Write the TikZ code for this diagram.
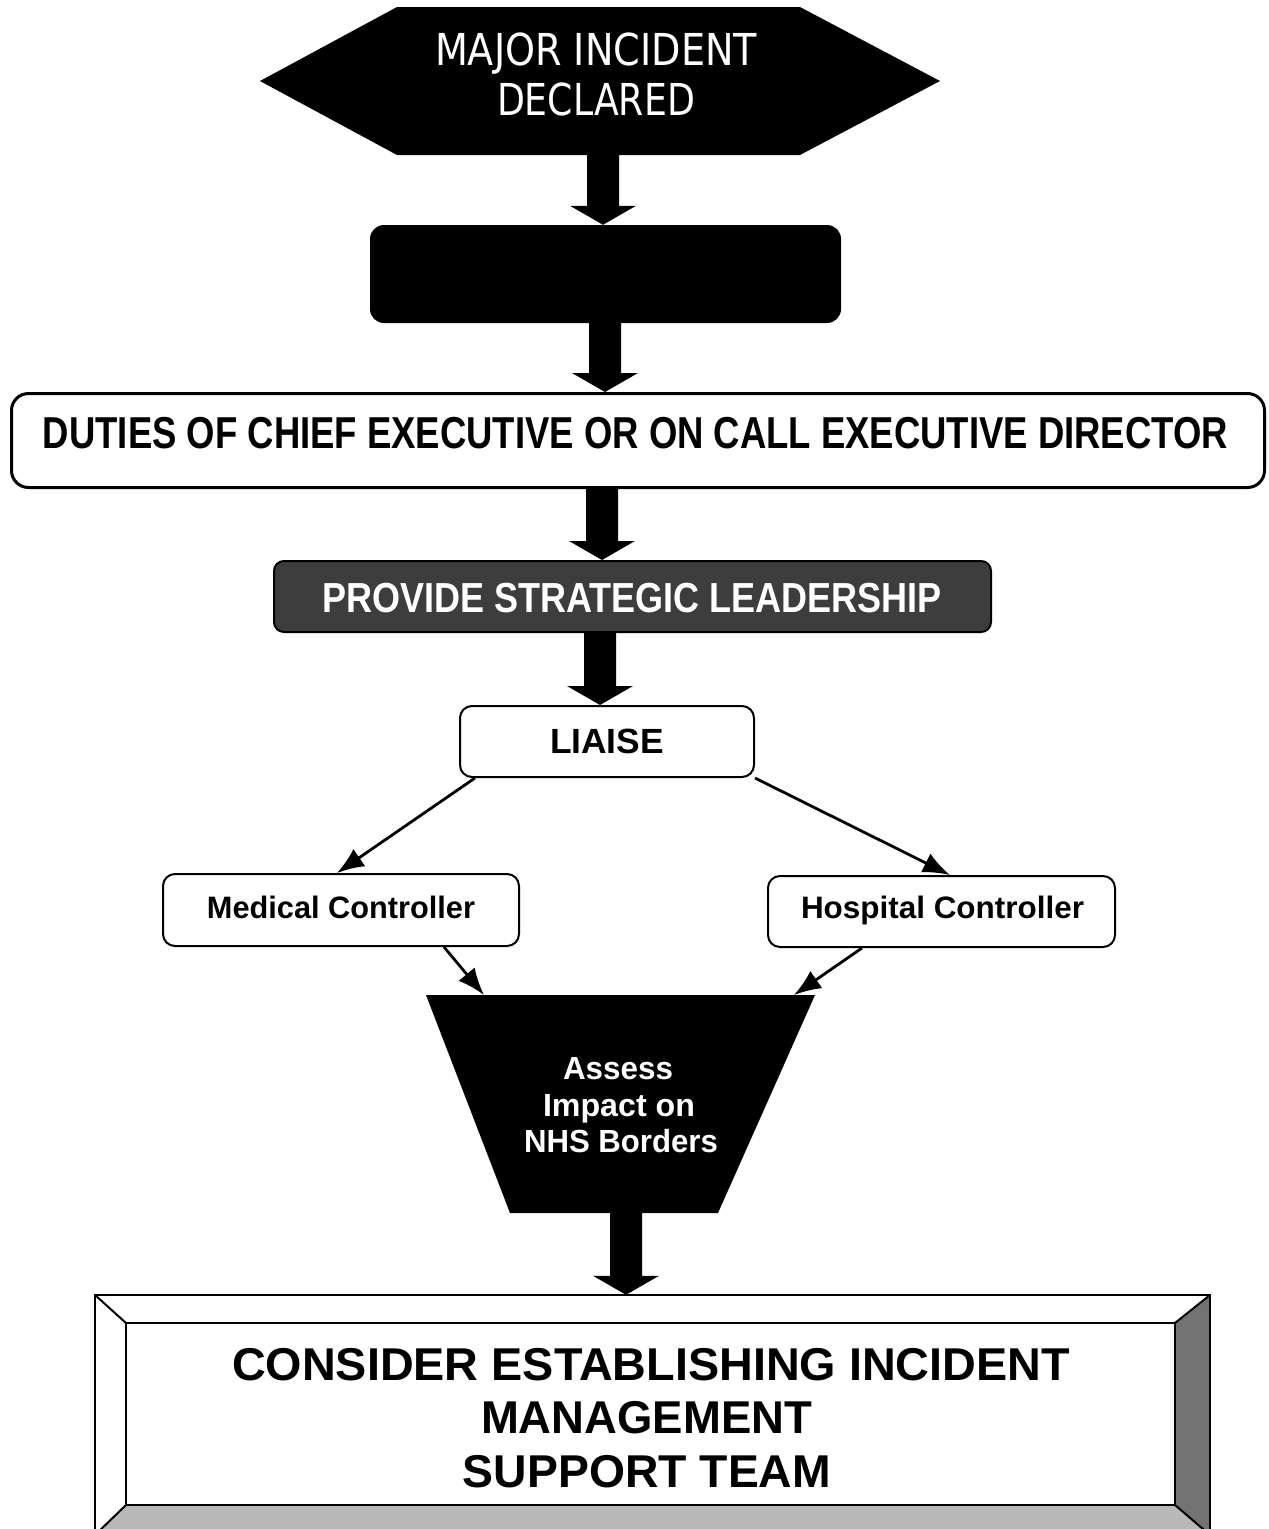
\documentclass[tikz,border=0pt]{standalone}
\usepackage{fontspec}
\setmainfont{Liberation Sans}
\newfontfamily\hexfont{DejaVu Sans}
\usetikzlibrary{arrows.meta,calc}

% text line set at a given size, stretched horizontally to a given width
\newcommand\fitw[3]{\resizebox{#1pt}{\height}{\fontsize{#2}{#2}\selectfont #3}}

% thick block arrow from the point #1 down to the tip #2
\newcommand\blockarrow[2]{%
  \fill let \p1=#1, \p2=#2 in
    (\x1-16pt,\y1) -- (\x1-16pt,\y2+19pt) -- (\x1-33pt,\y2+19pt) -- (\x1,\y2)
    -- (\x1+33pt,\y2+19pt) -- (\x1+16pt,\y2+19pt) -- (\x1+16pt,\y1) -- cycle;}

\begin{document}
\begin{tikzpicture}[x=1pt,y=-1pt,
  thinarrow/.style={line width=2.8pt, -{Latex[length=27pt,width=21pt]}},
  plainbox/.style={draw, line width=2pt, rounded corners=12pt, fill=white, inner sep=0},
  lbl/.style={anchor=base, inner sep=0},
  bevel/.style={line width=2pt, line join=miter},
]
\path[use as bounding box] (0,0) rectangle (1269,1529);
\fill[white] (0,0) rectangle (1269,1529);
\clip (0,0) rectangle (1269,1529);

% columns of the block arrows
\coordinate (ax1) at (603,0);
\coordinate (ax2) at (605,0);
\coordinate (ax3) at (602,0);
\coordinate (ax4) at (600,0);
\coordinate (ax5) at (626,0);

% start: hexagon banner
\fill (260,81) -- (397,7) -- (800,7) -- (940,81) -- (800,155) -- (397,155) -- cycle;
\node[lbl, text=white] (hexa) at (596,65) {\hexfont\fitw{322}{44}{MAJOR INCIDENT}};
\node[lbl, text=white] (hexb) at (596,115) {\hexfont\fitw{198}{44}{DECLARED}};
\coordinate (hexbot) at (603,155);

% solid black panel
\node[fill=black, rounded corners=14pt, minimum width=471pt, minimum height=98pt, inner sep=0]
  (blank) at (605.5,274) {};

% duties box
\node[draw, line width=3pt, rounded corners=17pt, minimum width=1253pt, minimum height=94pt, inner sep=0]
  (duties) at (638,440.5) {};
\node[lbl] (dutiestxt) at (635.5,448)
  {\bfseries\fitw{1185}{44.7}{DUTIES OF CHIEF EXECUTIVE OR ON CALL EXECUTIVE DIRECTOR}};

% strategic leadership
\node[draw, line width=2pt, fill=black!76, rounded corners=10pt, minimum width=717pt, minimum height=71pt, inner sep=0]
  (provide) at (632.5,596.5) {};
\node[lbl, text=white] (providetxt) at (632,612)
  {\bfseries\fitw{620}{42}{PROVIDE STRATEGIC LEADERSHIP}};

% liaison and controllers
\node[plainbox, minimum width=294pt, minimum height=71pt] (liaise) at (607,741.5) {};
\node[lbl] (liaisetxt) at (607,753) {\bfseries\fitw{114}{35}{LIAISE}};

\node[plainbox, minimum width=356pt, minimum height=72pt] (medical) at (341,910) {};
\node[lbl] (medicaltxt) at (341,918) {\bfseries\fitw{268}{31}{Medical Controller}};

\node[plainbox, minimum width=347pt, minimum height=71pt] (hospital) at (941.5,911.5) {};
\node[lbl] (hospitaltxt) at (942.5,918) {\bfseries\fitw{283}{31}{Hospital Controller}};

% assessment funnel
\fill (426,995) -- (815,995) -- (718,1213) -- (510,1213) -- cycle;
\coordinate (trapL) at (484,995);
\coordinate (trapR) at (794,995);
\coordinate (trapbot) at (626,1213);
\node[lbl, text=white] (as1) at (618,1079) {\bfseries\fitw{110}{32}{Assess}};
\node[lbl, text=white] (as2) at (619,1116) {\bfseries\fitw{152}{32}{Impact on}};
\node[lbl, text=white] (as3) at (621,1152) {\bfseries\fitw{194}{32}{NHS Borders}};

% bevelled panel
\node[minimum width=1115pt, minimum height=240pt, inner sep=0] (final) at (652.5,1415) {};
\fill[white] (final.north west) rectangle (final.south east);
\fill[black!55] (final.north east) -- (final.south east) -- (1175,1505) -- (1175,1323) -- cycle;
\fill[black!28] (final.south west) -- (final.south east) -- (1175,1505) -- (126,1505) -- cycle;
\draw[bevel] (final.north west) rectangle (final.south east);
\draw[bevel] (126,1323) rectangle (1175,1505);
\draw[bevel] (final.north west) -- (126,1323);
\draw[bevel] (final.north east) -- (1175,1323);
\draw[bevel] (final.south west) -- (126,1505);
\draw[bevel] (final.south east) -- (1175,1505);
\node[lbl] (fin1) at (651,1380) {\bfseries\fitw{838}{46}{CONSIDER ESTABLISHING INCIDENT}};
\node[lbl] (fin2) at (646.5,1433) {\bfseries\fitw{331}{46}{MANAGEMENT}};
\node[lbl] (fin3) at (647,1487) {\bfseries\fitw{368}{46}{SUPPORT TEAM}};

% block arrows
\blockarrow{(hexbot)}{(blank.north -| ax1)}
\blockarrow{(blank.south -| ax2)}{(duties.north -| ax2)}
\blockarrow{(duties.south -| ax3)}{(provide.north -| ax3)}
\blockarrow{(provide.south -| ax4)}{(liaise.north -| ax4)}
\blockarrow{(trapbot)}{(final.north -| ax5)}

% thin connectors
\draw[thinarrow] ([xshift=16pt]liaise.south west) -- ([xshift=175pt]medical.north west);
\draw[thinarrow] (liaise.south east) -- ([xshift=183pt]hospital.north west);
\draw[thinarrow] ([xshift=282pt]medical.south west) -- (trapL);
\draw[thinarrow] ([xshift=95pt]hospital.south west) -- (trapR);
\end{tikzpicture}
\end{document}
